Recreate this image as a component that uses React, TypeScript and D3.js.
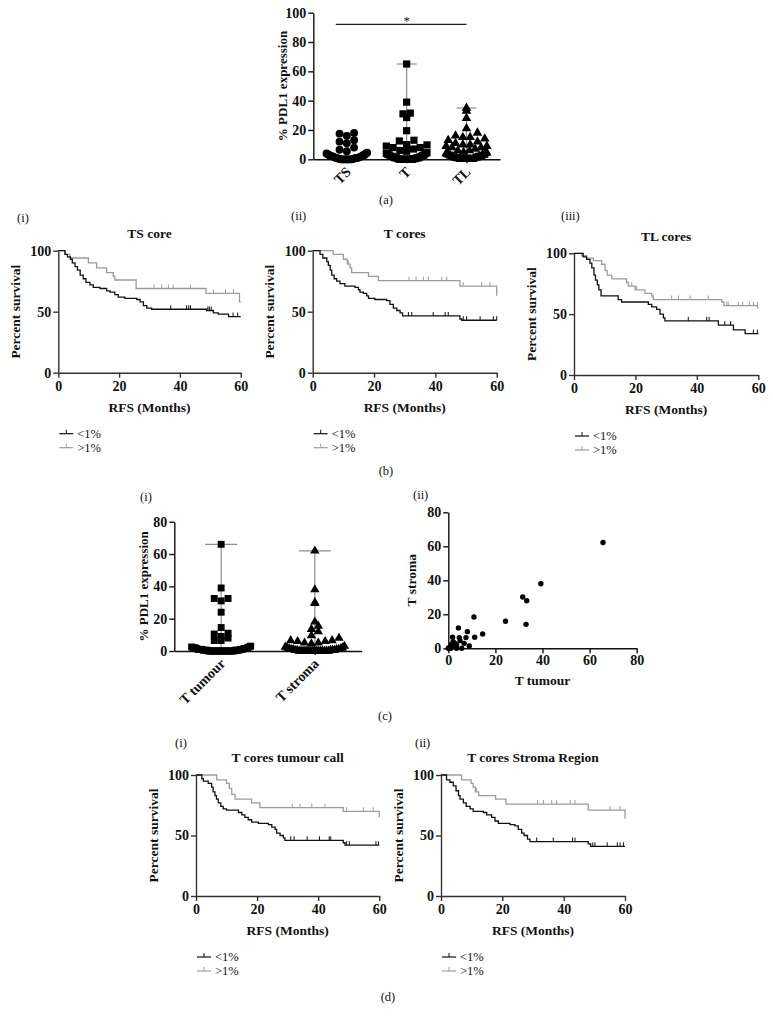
import React, { useEffect, useRef } from "react";
import * as d3 from "d3";

const FONT = "'Liberation Serif', 'Times New Roman', Times, serif";
const W = 773;
const H = 1020;

// ---------- Panel (a): % PDL1 expression by core ----------
const groupsA = ["TS", "T", "TL"];
const dotsTS = [18, 17.5, 16, 13, 12, 11, 8, 6.5, 5.5, 4.5, 4, 4, 3.5, 3, 3, 3, 2.5, 2, 2, 2, 2, 1.5, 1.5, 1, 1, 1, 1, 1, 0.5, 0.5, 0.5, 0.5, 0, 0, 0, 0, 0, 0, 0, 0, 0, 0];
const dotsT = [65, 39, 31.5, 31, 28.5, 19.5, 13, 12.5, 10, 9.8, 9, 8, 8, 7, 6, 5.5, 4.5, 4, 4, 3.5, 3, 3, 2.5, 2, 2, 2, 1.5, 1.5, 1, 1, 1, 1, 0.5, 0.5, 0.5, 0, 0, 0, 0, 0, 0, 0, 0, 0, 0];
const dotsTL = [35, 33, 28, 21, 18, 16, 15, 15, 14, 13, 12, 11, 10, 10, 9, 9, 8, 8, 7, 6, 6, 5, 4.5, 4, 4, 3.5, 3, 3, 3, 2.5, 2, 2, 2, 1.5, 1.5, 1, 1, 1, 1, 0.5, 0.5, 0.5, 0, 0, 0, 0, 0, 0, 0, 0, 0];
const ticksA = [0, 20, 40, 60, 80, 100];

// ---------- Kaplan-Meier curves: [months, % survival] steps ----------
const kmTicksX = [0, 20, 40, 60];
const kmTicksY = [0, 50, 100];
const legendLabels = ["<1%", ">1%"];

const tsLow = [[0, 100], [2.2, 97], [3, 95], [4, 93], [4.6, 90], [5.5, 87], [6.3, 84], [7.2, 80], [8.2, 77], [9.1, 74], [10.4, 72], [11.5, 70], [13.7, 69], [15.9, 67], [17, 66], [18.6, 64], [19.7, 62], [21.9, 61], [25.8, 60], [26.9, 58], [28, 55], [29.1, 53], [30.7, 52], [48.8, 51], [51, 49], [52.6, 48], [56, 46]];
const tsLowCens = [37, 42.2, 42.9, 43.5, 49.2, 49.7, 50.3, 57.5, 59];
const tsHigh = [[0, 100], [2.2, 97], [3.8, 94], [9.9, 90], [12.6, 86], [15.9, 82], [18.1, 79], [18.6, 76], [25.6, 69], [48.6, 65], [59.6, 58]];
const tsHighCens = [31.5, 34, 36.2, 37.8, 43.5, 51, 55, 57.6];

const tLow = [[0, 100], [2.4, 97], [3.3, 94], [4.6, 91], [5.1, 88], [5.7, 84], [6.2, 80], [7, 77], [7.8, 75], [8.9, 73], [10.5, 71], [13.8, 70], [14.9, 68], [15.4, 66], [16.5, 65], [17.6, 63], [18.2, 61], [20.3, 60], [24.1, 59], [25.2, 56], [26.3, 53], [27.4, 51], [28.5, 49], [29.3, 46.5], [48, 44], [48.6, 43]];
const tLowCens = [31.2, 32.3, 39.3, 43.2, 44.2, 49.1, 50.2, 54.6, 58.9, 60];
const tHigh = [[0, 100], [6.7, 97], [10, 93], [11.3, 89], [12.2, 86], [12.7, 82], [18.2, 79], [21.4, 75.5], [48, 71], [60, 63]];
const tHighCens = [11.6, 31.4, 33.7, 36.1, 37.7, 42.1, 43.7, 49.1, 55.1, 57.8];

const tlLow = [[0, 100], [3, 97], [4.1, 95], [5.2, 92], [5.8, 88], [6.5, 82], [7, 78], [7.6, 74], [8.1, 70], [8.8, 65], [14.4, 62], [15.5, 60], [24.2, 58], [25.3, 56], [26.9, 54], [28, 50], [29.1, 47], [29.6, 44.5], [47, 41], [51.9, 37], [55.7, 34]];
const tlLowCens = [37.2, 43.2, 44, 49.1, 51, 58.4, 59.7];
const tlHigh = [[0, 100], [2.5, 98], [4.1, 96], [6.3, 94], [9, 91], [10.1, 86], [10.8, 82], [12.3, 79], [17.1, 76], [17.7, 73], [19.9, 70], [23.1, 67], [25.3, 65], [25.8, 62], [48.1, 60], [48.8, 57], [59.8, 55]];
const tlHighCens = [18.8, 20.4, 31.8, 34, 37.8, 43.7, 49.7, 50.2, 53.5, 54.9, 57.1, 58.4, 59.7];

const dtLow = [[0, 100], [1.9, 97], [2.4, 95], [4, 93], [5.1, 90], [5.6, 86], [6.2, 83], [6.7, 80], [7.3, 77], [8.1, 74], [8.9, 72], [10, 71], [13.9, 69], [15, 67], [16, 65], [17.1, 63], [18.2, 61], [20.4, 60], [23.7, 59], [24.8, 57], [25.9, 55], [26.4, 52], [27.5, 50], [28.6, 48], [29.1, 46], [48.2, 44], [48.8, 42]];
const dtLowCens = [31, 32.1, 36.4, 40.4, 43.6, 44.1, 49.3, 50.2, 58.9, 59.7];
const dtHigh = [[0, 100], [6.8, 96], [10, 93], [10.9, 89], [11.7, 84], [12.8, 80], [18.2, 77], [20.9, 73], [48.2, 70], [60, 65]];
const dtHighCens = [31.5, 34, 37.9, 42.2, 49.3, 54.8, 58];

const dsLow = [[0, 100], [1.8, 96], [2.9, 94], [4, 91], [4.9, 87], [5.7, 83], [6.2, 80], [7.3, 77], [8.2, 74], [9.5, 72], [10.5, 70], [13.8, 69], [14.9, 67], [16.5, 65], [17.6, 62], [18.7, 60], [22.5, 59], [24.1, 58], [25.2, 55], [26.3, 52], [27.1, 50], [28.2, 47], [29, 45], [48, 43], [48.8, 41]];
const dsLowCens = [31.2, 36.6, 42.9, 43.7, 49.5, 50.2, 54.2, 57.5, 58.4, 59.5];
const dsHigh = [[0, 100], [6.7, 96], [9.8, 93], [10.5, 90], [11.2, 86], [12.3, 83], [17.8, 80], [21.2, 76], [48, 71], [60, 64]];
const dsHighCens = [11.6, 31.5, 33.4, 36.1, 37.7, 42.1, 43.7, 55.1, 58.4];

// ---------- Panel (c) ----------
const groupsC = ["T tumour", "T stroma"];
const dotsTumour = [66, 39, 32.5, 32.5, 31, 24, 14.5, 11, 10.5, 9, 8, 6.5, 6.5, 3, 2.5, 2.5, 2, 2, 2, 1.5, 1.5, 1.5, 1, 1, 1, 1, 1, 0.5, 0.5, 0.5, 0.5, 0.5, 0.5, 0, 0, 0, 0, 0, 0, 0, 0, 0, 0, 0, 0, 0, 0, 0, 0];
const dotsStroma = [62, 38, 30, 29.5, 18, 15.5, 13.5, 12, 9.5, 8, 6.5, 6.5, 6, 6, 5, 5, 4.5, 3, 2.5, 2, 2, 1.5, 1.5, 1, 1, 1, 1, 0.5, 0.5, 0.5, 0.5, 0.5, 0, 0, 0, 0, 0, 0, 0, 0, 0, 0, 0, 0, 0, 0, 0, 0];
const ticksC = [0, 20, 40, 60, 80];
const scatterTumour = [65.7, 39.3, 31.6, 33.3, 33.0, 24.3, 14.6, 10.9, 11.2, 8.1, 7.5, 6.7, 4.3, 4.7, 5.0, 8.9, 5.7, 3.5, 1.8, 2.1, 1.4, 2.8, 0.7, 0.4, 0, 1.1, 2.4, 3.5];
const scatterStroma = [62.2, 38.0, 30.2, 28.0, 14.1, 15.9, 8.4, 18.4, 6.5, 9.8, 6.3, 2.9, 12.0, 6.3, 4.5, 1.4, 0, 0, 6.5, 3.9, 2.4, 2.9, 1, 0, 0, 0, 1, 2];

// ---------- helpers ----------
function txt(g, x, y, s, size = 12.5, weight = "normal", anchor = "middle", rotate = 0) {
  const t = g
    .append("text")
    .attr("font-family", FONT)
    .attr("font-size", size)
    .attr("font-weight", weight)
    .attr("text-anchor", anchor)
    .attr("dy", "0.35em")
    .attr("fill", "#111")
    .text(s);
  if (rotate) t.attr("transform", `translate(${x},${y}) rotate(${rotate})`);
  else t.attr("x", x).attr("y", y);
  return t;
}

function styleAxis(g, size = 14, color = "#222") {
  g.attr("font-family", null).attr("font-size", null);
  g.selectAll("text")
    .attr("font-family", FONT)
    .attr("font-size", size)
    .attr("font-weight", "bold")
    .attr("fill", "#111");
  g.selectAll("path.domain, .tick line").attr("stroke", color).attr("stroke-width", 1.4);
}

function swarm(vals, y, cx, size, maxW) {
  const yb = y(0);
  const bins = d3.groups(vals, (v) => Math.floor((yb - y(v)) / size));
  const out = [];
  for (const [, bv] of bins) {
    const s = bv.slice().sort((a, b) => a - b);
    const n = s.length;
    const sp = n > 1 ? Math.min(size, (maxW - size) / (n - 1)) : 0;
    const slots = d3.range(n).map((k) => (k - (n - 1) / 2) * sp);
    slots.sort((a, b) => Math.abs(a) - Math.abs(b) || a - b);
    s.forEach((v, i) => out.push({ v, x: cx + slots[i], y: y(v) }));
  }
  return out;
}

function drawDotPanel(svg, o) {
  const g = svg.append("g");
  const x = d3.scalePoint().domain(o.cats).range([o.x0, o.x1]).padding(o.pad);
  const y = d3.scaleLinear().domain([0, o.yMax]).range([o.yB, o.yT]);

  const gy = g.append("g").attr("transform", `translate(${o.x0},0)`)
    .call(d3.axisLeft(y).tickValues(o.ticks).tickSize(5).tickSizeOuter(0).tickPadding(2));
  styleAxis(gy, 14, "#111");
  const gx = g.append("g").attr("transform", `translate(0,${o.yB})`)
    .call(d3.axisBottom(x).tickSize(4).tickSizeOuter(0));
  styleAxis(gx, 14, "#111");
  gx.selectAll("text")
    .attr("x", 0).attr("y", 0).attr("dy", "0.35em")
    .attr("text-anchor", "end")
    .attr("transform", "translate(1,10) rotate(-45)");

  txt(g, o.ylabX, (o.yB + o.yT) / 2, o.ylabel, 13, "bold", "middle", -90);

  o.groups.forEach((vals, i) => {
    const cx = x(o.cats[i]);
    const mx = d3.max(vals);
    g.append("line").attr("x1", cx).attr("x2", cx).attr("y1", y(0)).attr("y2", y(mx))
      .attr("stroke", "#8e8e8e").attr("stroke-width", 1.2);
    g.append("line").attr("x1", cx - o.capW).attr("x2", cx + o.capW).attr("y1", y(mx)).attr("y2", y(mx))
      .attr("stroke", "#8e8e8e").attr("stroke-width", 1.2);
    const pts = swarm(vals, y, cx, o.size, o.maxW);
    const sym = d3.symbol().type(o.shapes[i]).size(o.areas[i]);
    g.selectAll(null).data(pts).enter().append("path")
      .attr("d", sym)
      .attr("transform", (d) => `translate(${d.x},${d.y})`)
      .attr("fill", "#000");
  });
  return { x, y, g };
}

function survAt(steps, t) {
  let s = steps[0][1];
  for (const p of steps) if (p[0] <= t) s = p[1];
  return s;
}

function drawKM(svg, o) {
  const g = svg.append("g");
  const x = d3.scaleLinear().domain([0, 60]).range([o.x0, o.x1]);
  const y = d3.scaleLinear().domain([0, 100]).range([o.yB, o.yT]);
  const gy = g.append("g").attr("transform", `translate(${o.x0},0)`)
    .call(d3.axisLeft(y).tickValues(kmTicksY).tickSize(5).tickSizeOuter(0).tickPadding(2));
  styleAxis(gy, 14, "#333");
  const gx = g.append("g").attr("transform", `translate(0,${o.yB})`)
    .call(d3.axisBottom(x).tickValues(kmTicksX).tickSize(5).tickSizeOuter(0).tickPadding(3));
  styleAxis(gx, 14, "#333");

  const line = d3.line().x((d) => x(d[0])).y((d) => y(d[1])).curve(d3.curveStepAfter);
  const series = [
    { steps: o.high, cens: o.highCens, color: "#9c9c9c" },
    { steps: o.low, cens: o.lowCens, color: "#111" },
  ];
  series.forEach((s) => {
    const last = s.steps[s.steps.length - 1];
    const data = last[0] < 60 ? s.steps.concat([[60, last[1]]]) : s.steps;
    g.append("path").attr("d", line(data)).attr("fill", "none").attr("stroke", s.color).attr("stroke-width", 1.3);
    g.selectAll(null).data(s.cens).enter().append("line")
      .attr("x1", (t) => x(t)).attr("x2", (t) => x(t))
      .attr("y1", (t) => y(survAt(s.steps, t)))
      .attr("y2", (t) => y(survAt(s.steps, t)) - 4)
      .attr("stroke", s.color).attr("stroke-width", 1);
  });

  txt(g, (o.x0 + o.x1) / 2, o.yT - 17.5, o.title, 13.5, "bold");
  txt(g, (o.x0 + o.x1) / 2, o.yB + 34.5, "RFS (Months)", 13.5, "bold");
  txt(g, o.x0 - 43, (o.yB + o.yT) / 2, "Percent survival", 13.5, "bold", "middle", -90);
  txt(g, o.subX, o.subY, o.sub, 12.5, "normal", "start");

  const colors = ["#111", "#9c9c9c"];
  legendLabels.forEach((lab, i) => {
    const ly = o.yB + 61 + i * 14;
    const lx = o.x0 + 1;
    g.append("line").attr("x1", lx).attr("x2", lx + 14).attr("y1", ly).attr("y2", ly).attr("stroke", colors[i]).attr("stroke-width", 1.2);
    g.append("line").attr("x1", lx + 7).attr("x2", lx + 7).attr("y1", ly).attr("y2", ly - 4).attr("stroke", colors[i]).attr("stroke-width", 1);
    txt(g, lx + 18, ly, lab, 12.5, "normal", "start");
  });
}

export default function App() {
  const ref = useRef(null);
  useEffect(() => {
    const svg = d3.select(ref.current);
    svg.selectAll("*").remove();
    svg.append("rect").attr("width", W).attr("height", H).attr("fill", "#fff");

    // Panel (a)
    const a = drawDotPanel(svg, {
      cats: groupsA, groups: [dotsTS, dotsT, dotsTL],
      shapes: [d3.symbolCircle, d3.symbolSquare, d3.symbolTriangle], areas: [48, 52, 40],
      x0: 313.3, x1: 500, pad: 0.56, yB: 159.3, yT: 12.7, yMax: 100, ticks: ticksA,
      size: 7.3, maxW: 48, capW: 10, ylabel: "% PDL1 expression", ylabX: 282,
    });
    const sigY = a.y(92);
    svg.append("line").attr("x1", a.x("TS") - 11).attr("x2", a.x("TL")).attr("y1", sigY).attr("y2", sigY)
      .attr("stroke", "#222").attr("stroke-width", 1.2);
    txt(svg, a.x("T"), sigY - 4, "*", 13, "normal");
    txt(svg, 386, 200, "(a)", 12.5);

    // Panel (b)
    drawKM(svg, { x0: 58.3, x1: 240.7, yB: 372.7, yT: 250.7, title: "TS core", sub: "(i)", subX: 17, subY: 218,
      low: tsLow, lowCens: tsLowCens, high: tsHigh, highCens: tsHighCens });
    drawKM(svg, { x0: 312.7, x1: 496.7, yB: 372.7, yT: 250.7, title: "T cores", sub: "(ii)", subX: 291, subY: 216,
      low: tLow, lowCens: tLowCens, high: tHigh, highCens: tHighCens });
    drawKM(svg, { x0: 574, x1: 758.3, yB: 375, yT: 253.3, title: "TL cores", sub: "(iii)", subX: 561, subY: 216,
      low: tlLow, lowCens: tlLowCens, high: tlHigh, highCens: tlHighCens });
    txt(svg, 386, 471, "(b)", 12.5);

    // Panel (c)(i)
    drawDotPanel(svg, {
      cats: groupsC, groups: [dotsTumour, dotsStroma],
      shapes: [d3.symbolSquare, d3.symbolTriangle], areas: [48, 38],
      x0: 174.3, x1: 361.7, pad: 0.5, yB: 651, yT: 521.7, yMax: 80, ticks: ticksC,
      size: 6.9, maxW: 66, capW: 16, ylabel: "% PDL1 expression", ylabX: 143,
    });
    txt(svg, 140, 497, "(i)", 12.5, "normal", "start");

    // Panel (c)(ii)
    const gs = svg.append("g");
    const sx = d3.scaleLinear().domain([0, 80]).range([448.3, 636.7]);
    const sy = d3.scaleLinear().domain([0, 80]).range([648.3, 512.3]);
    const gsy = gs.append("g").attr("transform", `translate(${sx(0)},0)`)
      .call(d3.axisLeft(sy).tickValues(ticksC).tickSize(5).tickSizeOuter(0).tickPadding(2));
    styleAxis(gsy, 14, "#111");
    const gsx = gs.append("g").attr("transform", `translate(0,${sy(0)})`)
      .call(d3.axisBottom(sx).tickValues(ticksC).tickSize(5).tickSizeOuter(0).tickPadding(2));
    styleAxis(gsx, 14, "#111");
    gs.selectAll(null).data(scatterTumour.map((t, i) => [t, scatterStroma[i]])).enter().append("circle")
      .attr("cx", (d) => sx(d[0])).attr("cy", (d) => sy(d[1])).attr("r", 2.7).attr("fill", "#000");
    txt(gs, 411.7, (sy(0) + sy(80)) / 2, "T stroma", 13.5, "bold", "middle", -90);
    txt(gs, (sx(0) + sx(80)) / 2, 680, "T tumour", 13.5, "bold");
    txt(gs, 413, 495, "(ii)", 12.5, "normal", "start");
    txt(svg, 385, 716, "(c)", 12.5);

    // Panel (d)
    drawKM(svg, { x0: 196, x1: 379.3, yB: 896, yT: 775, title: "T cores tumour call", sub: "(i)", subX: 175, subY: 743,
      low: dtLow, lowCens: dtLowCens, high: dtHigh, highCens: dtHighCens });
    drawKM(svg, { x0: 441, x1: 625, yB: 896, yT: 775, title: "T cores Stroma Region", sub: "(ii)", subX: 415, subY: 743,
      low: dsLow, lowCens: dsLowCens, high: dsHigh, highCens: dsHighCens });
    txt(svg, 388, 997, "(d)", 12.5);
  }, []);
  return (
    <svg ref={ref} width={W} height={H} style={{ position: "absolute", left: 0, top: 0, background: "#fff" }} />
  );
}
